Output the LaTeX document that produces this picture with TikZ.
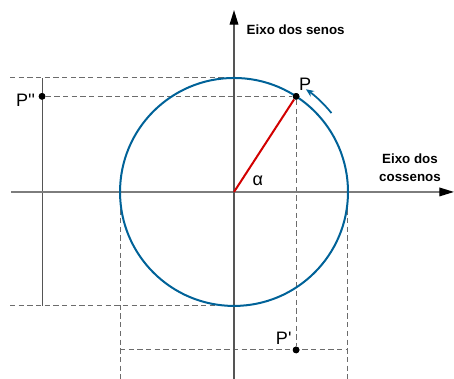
\documentclass[tikz,border=0pt]{standalone}
\usepackage{fontspec}
\setmainfont{Liberation Sans}
\usetikzlibrary{arrows.meta}
\definecolor{circblue}{RGB}{0,98,152}
\definecolor{haxis}{RGB}{125,125,125}
\definecolor{vaxis}{RGB}{85,85,85}
\definecolor{radred}{RGB}{210,0,0}

\begin{document}
\begin{tikzpicture}[
		x=3cm,
		y=3cm,
		font=\fontsize{13.5}{15}\selectfont,
		axis/.style={-{Triangle[length=11pt,width=6.5pt,color=black]}, line width=1pt},
		proj/.style={dash pattern=on 4pt off 2.5pt, gray!85!black, line width=0.75pt},
		dot/.style={circle, fill=black, inner sep=0pt, minimum size=5pt},
		axislabel/.style={font=\bfseries\fontsize{10}{13}\selectfont, align=center}
		]
		\useasboundingbox (-2.053,-1.640) rectangle (1.930,1.684);
		
		% Reference points
		\coordinate (O) at (0,0);
		\coordinate (T) at (0,1);
		\coordinate (B) at (0,-1);
		\coordinate (L) at (-1,0);
		\coordinate (R) at (1,0);
		\coordinate (Tl) at (-1.965,1);
		\coordinate (Bl) at (-1.965,-1);
		\coordinate (Ld) at (-1,-1.64);
		\coordinate (Rd) at (1,-1.64);
		\coordinate (Lc) at (-1,-1.386);
		\coordinate (Rc) at (1,-1.386);
		\coordinate (St) at (-1.684,1);
		\coordinate (Sb) at (-1.684,-1);
		
		% Points
		\node[dot] (P) at (57:1) {};
		\node[dot] (Pc) at (P |- Lc) {};
		\node[dot] (Ps) at (P -| St) {};
		
		% Projection lines
		\draw[proj] (Tl) -- (T);
		\draw[proj] (Bl) -- (B);
		\draw[proj] (L) -- (Ld);
		\draw[proj] (R) -- (Rd);
		\draw[proj] (Lc) -- (Rc);
		\draw[proj] (Ps) -- (P);
		\draw[proj] (P) -- (Pc);
		\draw[vaxis, line width=0.75pt] (St) -- (Sb);
		
		% Axes
		\coordinate (Xs) at (-1.956,0);
		\coordinate (Xe) at (1.93,0);
		\coordinate (Ys) at (0,-1.64);
		\coordinate (Ye) at (0,1.596);
		\draw[axis, haxis] (Xs) -- (Xe);
		\draw[axis, vaxis] (Ys) -- (Ye);
		
		% Circle and radius
		\draw[circblue, line width=1.5pt] (O) circle[radius=1];
		\draw[radred, line width=1.5pt] (O) -- (P);
		\draw[circblue, line width=1.3pt, -{Stealth[length=6pt,width=5pt]}] (39:1.1) arc[start angle=39, end angle=55, radius=1.1];
		
		% Redraw points on top
		\node[dot] at (P) {};
		\node[dot] at (Pc) {};
		\node[dot] at (Ps) {};
		
		% Labels
		\node (lP) at (0.623,0.947) {P};
		\node (lPc) at (0.436,-1.283) {P\textquotesingle};
		\node (lPs) at (-1.829,0.807) {P\textquotesingle\textquotesingle};
		\node (la) at (0.21,0.096) {α};
		\node[axislabel, anchor=west] (lsen) at (0.07,1.421) {Eixo dos senos};
		\node[axislabel] (lcos) at (1.544,0.211) {Eixo dos\\cossenos};
	\end{tikzpicture}
\end{document}
